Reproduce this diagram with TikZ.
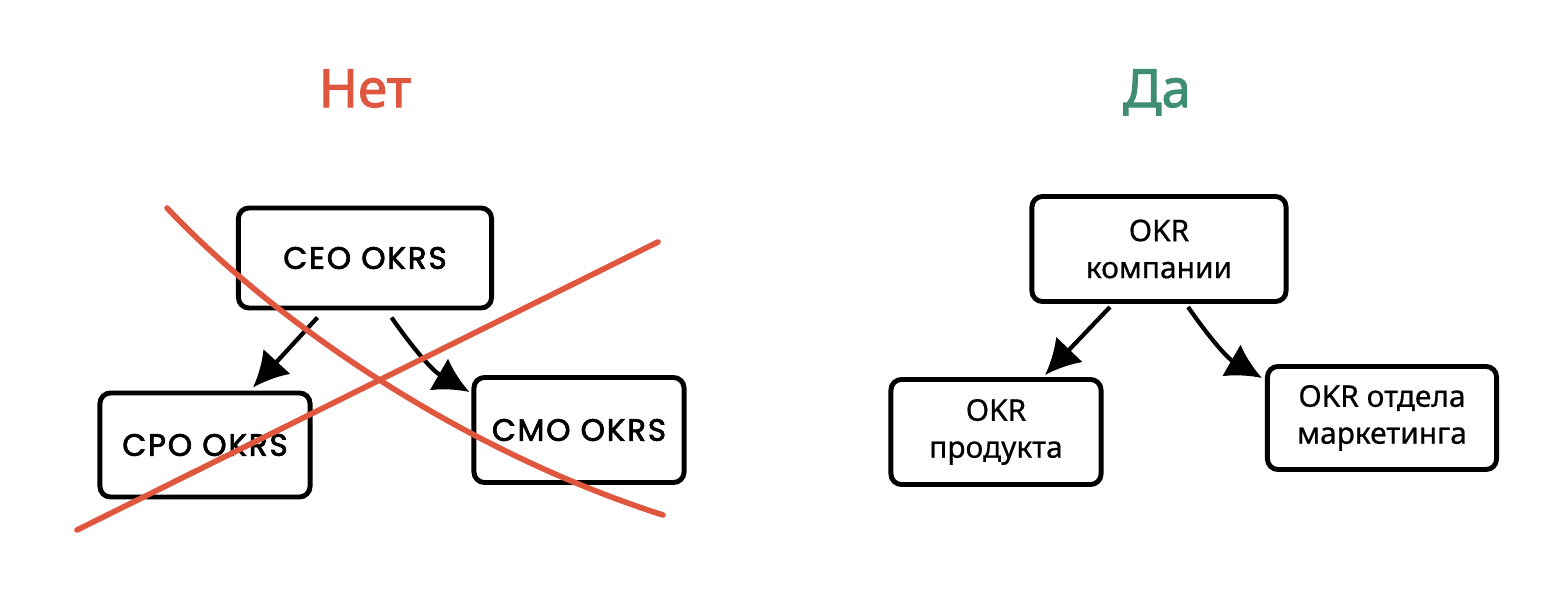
\documentclass[tikz,border=0pt]{standalone}
\usepackage{fontspec}
\setmainfont{Noto Sans}
\newfontfamily\handfont[LetterSpace=6,FakeBold=2.2]{Poppins}
\newfontfamily\titlefont[FakeBold=2]{Noto Sans}
\newfontfamily\boxfont[FakeBold=0.6]{Noto Sans}
\usepackage{tikz}
\usetikzlibrary{arrows.meta}
\definecolor{netred}{HTML}{E0573F}
\definecolor{dagreen}{HTML}{3F8E72}
\tikzstyle{okrbox}=[draw, rounded corners=3pt, line width=1.4pt, fill=white,% plain box, sketch look left out
align=center, inner sep=2pt]
\tikzstyle{oldbox}=[okrbox, font=\handfont\fontsize{8.8}{10}\selectfont]
\tikzstyle{newbox}=[okrbox, font=\boxfont\fontsize{8.5}{10.5}\selectfont]
\tikzstyle{okrarrow}=[-{Latex[length=10pt,width=10.5pt]}, line width=1.2pt]
\tikzstyle{title}=[font=\titlefont\fontsize{15}{18}\selectfont, anchor=base]
\tikzstyle{cross}=[netred, line width=1.6pt, line cap=round]

\begin{document}
\begin{tikzpicture}[x=0.01cm,y=-0.01cm]
\useasboundingbox (0,0) rectangle (1557,597);
\node[title, text=netred] (net) at (365,107) {Нет};
\node[title, text=dagreen] (da) at (1157,107) {Да};
%% left: wrong way
\node[oldbox, minimum width=2.53cm, minimum height=1.0cm] (ceo) at (365,258) {CEO OKRS};
\node[oldbox, minimum width=2.1cm, minimum height=1.04cm] (cpo) at (205,445) {CPO OKRS};
\node[oldbox, minimum width=2.1cm, minimum height=1.05cm] (cmo) at (579,430) {CMO OKRS};
\draw[okrarrow] ([xshift=-0.475cm,yshift=-0.07cm]ceo.south) -- ([xshift=0.48cm,yshift=0.03cm]cpo.north);
\draw[okrarrow] ([xshift=0.265cm,yshift=-0.07cm]ceo.south) to[out=-55,in=150] ([xshift=-0.02cm,yshift=-0.17cm]cmo.north west);
%% crossed out
\draw[cross] (167,208) .. controls (275,322) and (460,450) .. (663,515);
\draw[cross] (77,530) -- (658,242);
%% right: right way
\node[newbox, minimum width=2.54cm, minimum height=1.05cm] (comp) at (1159,249) {OKR\\компании};
\node[newbox, minimum width=2.1cm, minimum height=1.05cm] (prod) at (996,432) {OKR\\продукта};
\node[newbox, minimum width=2.29cm, minimum height=1.03cm] (mark) at (1382,418) {OKR отдела\\маркетинга};
\draw[okrarrow] ([xshift=-0.49cm,yshift=-0.03cm]comp.south) -- ([xshift=0.49cm,yshift=0.02cm]prod.north);
\draw[okrarrow] ([xshift=0.29cm,yshift=-0.03cm]comp.south) to[out=-55,in=150] ([xshift=-0.03cm,yshift=-0.14cm]mark.north west);
\end{tikzpicture}
\end{document}
